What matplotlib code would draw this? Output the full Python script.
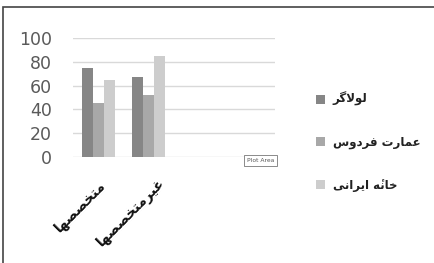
import matplotlib
matplotlib.use("Agg")
import matplotlib.pyplot as plt
from matplotlib.patches import Rectangle
import matplotlib.transforms as mtrans
import numpy as np

# ---------------- data ----------------
categories = ["متخصصها", "غیرمتخصصها"]
series_names = ["لولاگر", "عمارت فردوس", "خانۀ ایرانی"]
lulagar = [75, 67.5]
emarat_ferdows = [45, 52]
khane_irani = [65, 85]
yticks = [0, 20, 40, 60, 80, 100]
colors = ["#868686", "#a8a8a8", "#cdcdcd"]

# ---------- minimal Arabic/Persian shaping (visual order) ----------
FORMS = {  # isolated, final, initial, medial
    "ا": ("\uFE8D", "\uFE8E", None, None),
    "ت": ("\uFE95", "\uFE96", "\uFE97", "\uFE98"),
    "خ": ("\uFEA5", "\uFEA6", "\uFEA7", "\uFEA8"),
    "د": ("\uFEA9", "\uFEAA", None, None),
    "ر": ("\uFEAD", "\uFEAE", None, None),
    "س": ("\uFEB1", "\uFEB2", "\uFEB3", "\uFEB4"),
    "ص": ("\uFEB9", "\uFEBA", "\uFEBB", "\uFEBC"),
    "ع": ("\uFEC9", "\uFECA", "\uFECB", "\uFECC"),
    "غ": ("\uFECD", "\uFECE", "\uFECF", "\uFED0"),
    "ف": ("\uFED1", "\uFED2", "\uFED3", "\uFED4"),
    "ل": ("\uFEDD", "\uFEDE", "\uFEDF", "\uFEE0"),
    "م": ("\uFEE1", "\uFEE2", "\uFEE3", "\uFEE4"),
    "ن": ("\uFEE5", "\uFEE6", "\uFEE7", "\uFEE8"),
    "ه": ("\uFEE9", "\uFEEA", "\uFEEB", "\uFEEC"),
    "و": ("\uFEED", "\uFEEE", None, None),
    "ی": ("\uFBFC", "\uFBFD", "\uFBFE", "\uFBFF"),
    "گ": ("\uFB92", "\uFB93", "\uFB94", "\uFB95"),
    "ۀ": ("\uFEE9\u0654", "\uFEEA\u0654", None, None),
}


def joins_left(c):
    return c in FORMS and FORMS[c][2] is not None


def shape(text):
    chars = list(text)
    out = []
    i = 0
    n = len(chars)
    while i < n:
        c = chars[i]
        prev_j = i > 0 and joins_left(chars[i - 1])
        if c == "ل" and i + 1 < n and chars[i + 1] == "ا":
            out.append("\uFEFC" if prev_j else "\uFEFB")
            i += 2
            continue
        if c not in FORMS:
            out.append(c)
            i += 1
            continue
        iso, fin, ini, med = FORMS[c]
        next_j = i + 1 < n and chars[i + 1] in FORMS and ini is not None
        if prev_j and next_j:
            out.append(med)
        elif prev_j:
            out.append(fin)
        elif next_j:
            out.append(ini)
        else:
            out.append(iso)
        i += 1
    return "".join(reversed(out))


# ---------------- figure ----------------
fig = plt.figure(figsize=(4.34, 2.63), dpi=100)
fig.patch.set_facecolor("white")
fig.patches.append(Rectangle((3 / 434, -0.05), 1.2, 1 - 7 / 263 + 0.05,
                             transform=fig.transFigure, fill=False,
                             edgecolor="#444444", linewidth=1.2))

ax = fig.add_axes([73 / 434, 1 - 157 / 263, 202 / 434, 119 / 263])
x = np.arange(len(categories))
w = 0.22
series = [lulagar, emarat_ferdows, khane_irani]
for k, (vals, name, col) in enumerate(zip(series, series_names, colors)):
    ax.bar(x + (k - 1) * w, vals, width=w, color=col, label=shape(name),
           zorder=3)

ax.set_xlim(-0.5, 3.5)
ax.set_ylim(0, 100)
ax.set_yticks(yticks)
ax.set_yticklabels([str(v) for v in yticks], fontsize=12.5, color="#5a5a5a")
ax.yaxis.grid(True, color="#d9d9d9", linewidth=1.0, zorder=0)
ax.tick_params(axis="y", length=0, pad=15)
ax.tick_params(axis="x", length=0, pad=15)
for s in ax.spines.values():
    s.set_visible(False)
ax.set_xticks(x)
labels = ax.set_xticklabels([shape(c) for c in categories], rotation=45,
                            ha="right", va="top", rotation_mode="anchor",
                            fontsize=10, fontweight="bold", color="#111111",
                            family=["DejaVu Sans"])
labels[1].set_transform(labels[1].get_transform() +
                        mtrans.ScaledTranslation(8 / 100, 3 / 100,
                                                 fig.dpi_scale_trans))

ax.text(0.995, -0.005, "Plot Area", transform=ax.transAxes, ha="right",
        va="top", fontsize=4.3, color="#555555",
        bbox=dict(boxstyle="square,pad=0.5", facecolor="white",
                  edgecolor="#777777", linewidth=0.6))

leg = fig.legend(loc="center left", bbox_to_anchor=(316 / 434, 1 - 142 / 263),
                 frameon=False, handlelength=0.8, handleheight=0.8,
                 handletextpad=0.6, labelspacing=2.5, borderaxespad=0,
                 borderpad=0,
                 prop={"family": ["DejaVu Sans"], "size": 8.5,
                       "weight": "bold"})
for t in leg.get_texts():
    t.set_color("#222222")

fig.savefig("out.png", dpi=100, facecolor="white")
